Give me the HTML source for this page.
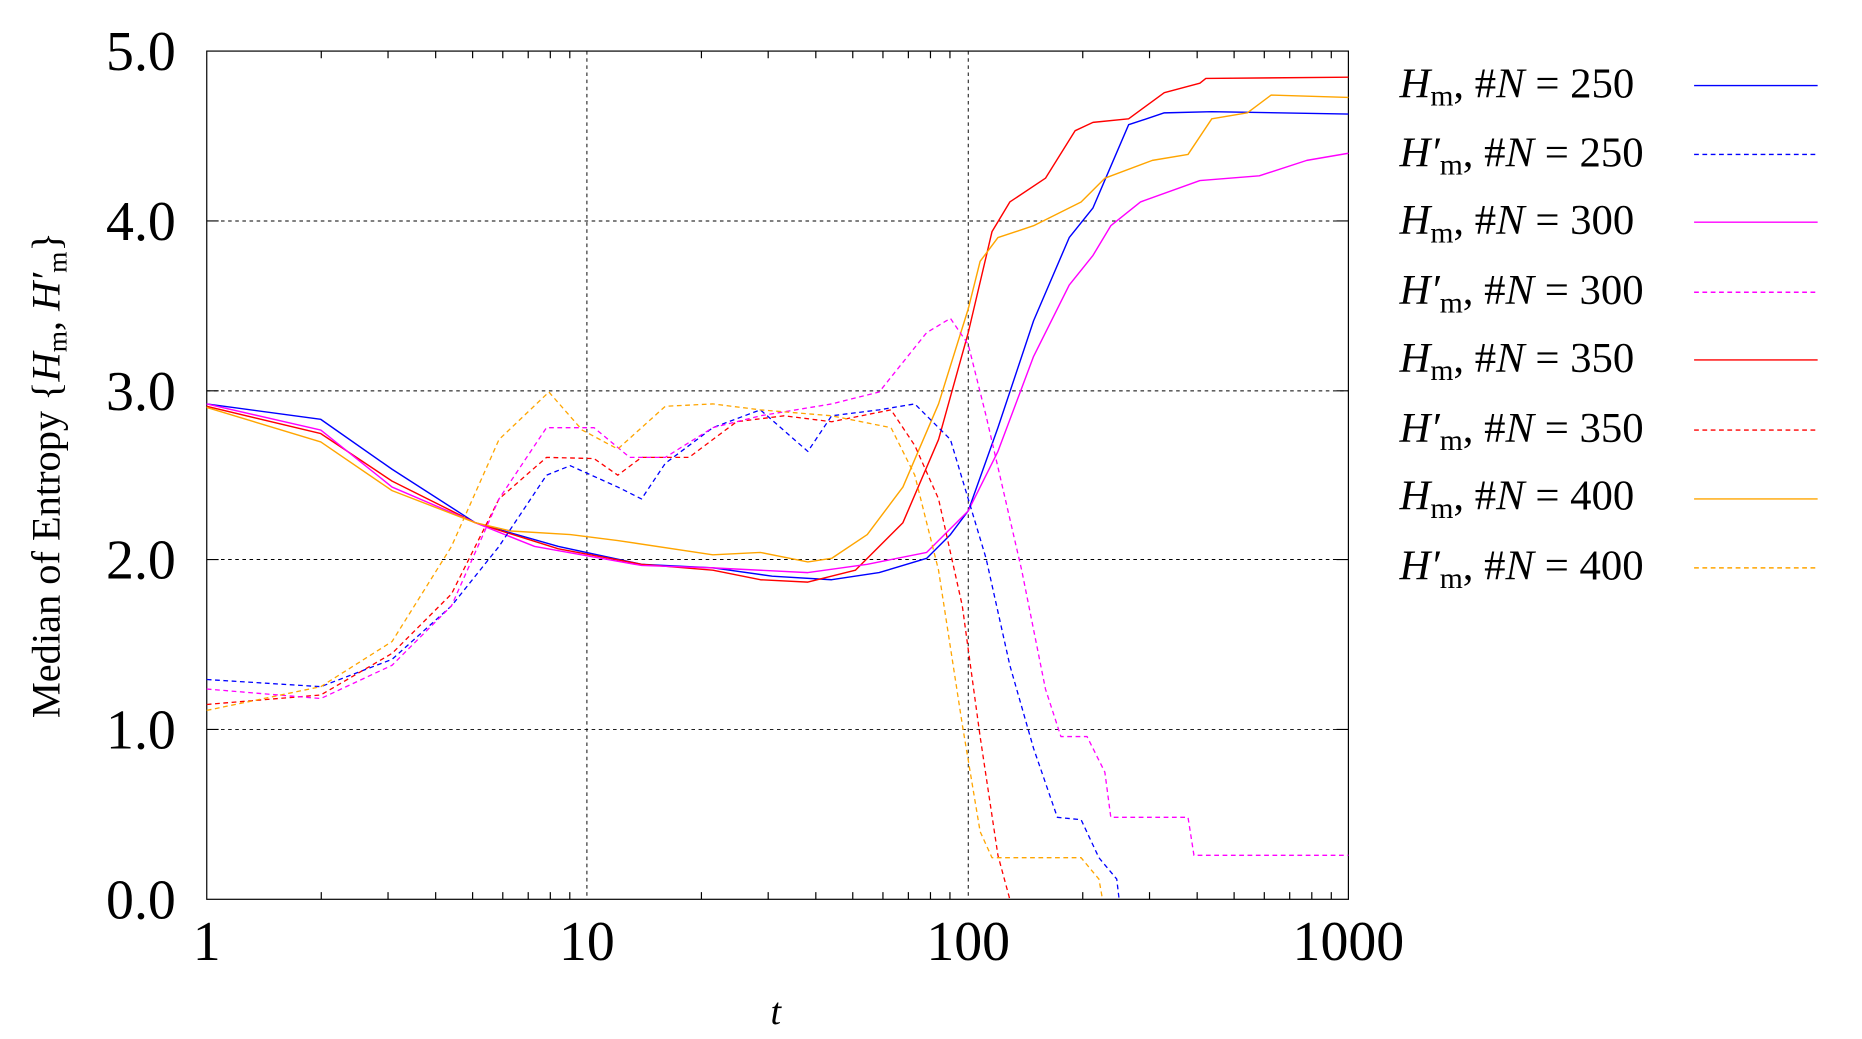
<!DOCTYPE html>
<html><head><meta charset="utf-8"><style>
html,body{margin:0;padding:0;background:#fff;}
svg{display:block;}
text{font-family:"Liberation Serif",serif;fill:#000;}
</style></head><body>
<svg width="1862" height="1039" viewBox="0 0 1567.3 874.6" xmlns="http://www.w3.org/2000/svg">
<g stroke="#000" stroke-width="0.8" stroke-dasharray="3,3" fill="none">
<line x1="494" y1="43" x2="494" y2="757"/>
<line x1="815" y1="43" x2="815" y2="757"/>
<line x1="174" y1="186" x2="1135" y2="186"/>
<line x1="174" y1="329" x2="1135" y2="329"/>
<line x1="174" y1="471" x2="1135" y2="471"/>
<line x1="174" y1="614" x2="1135" y2="614"/>
</g>
<g stroke="#000" stroke-width="1" fill="none">
<path d="M270.4,757v-6M326.6,757v-6M366.7,757v-6M397.8,757v-6M423.2,757v-6M444.6,757v-6M463.2,757v-6M479.6,757v-6M590.4,757v-6M646.6,757v-6M686.7,757v-6M717.8,757v-6M743.2,757v-6M764.6,757v-6M783.2,757v-6M799.6,757v-6M911.4,757v-6M967.6,757v-6M1007.7,757v-6M1038.8,757v-6M1064.2,757v-6M1085.6,757v-6M1104.2,757v-6M1120.6,757v-6
M270.4,43v6M326.6,43v6M366.7,43v6M397.8,43v6M423.2,43v6M444.6,43v6M463.2,43v6M479.6,43v6M590.4,43v6M646.6,43v6M686.7,43v6M717.8,43v6M743.2,43v6M764.6,43v6M783.2,43v6M799.6,43v6M911.4,43v6M967.6,43v6M1007.7,43v6M1038.8,43v6M1064.2,43v6M1085.6,43v6M1104.2,43v6M1120.6,43v6
M174,186h10M174,329h10M174,471h10M174,614h10M1135,186h-10M1135,329h-10M1135,471h-10M1135,614h-10"/>
<rect x="174" y="43" width="961" height="714"/>
</g>
<g font-size="47" text-anchor="end">
<text x="148" y="59">5.0</text><text x="148" y="202">4.0</text><text x="148" y="345">3.0</text><text x="148" y="487">2.0</text><text x="148" y="630">1.0</text><text x="148" y="773">0.0</text>
</g>
<g font-size="47" text-anchor="middle">
<text x="174" y="808">1</text><text x="494" y="808">10</text><text x="815" y="808">100</text><text x="1135" y="808">1000</text>
</g>
<text x="653" y="862" font-size="32" font-style="italic" text-anchor="middle">t</text>
<text transform="translate(50,400) rotate(-90)" font-size="34" text-anchor="middle">Median of Entropy {<tspan font-style="italic">H</tspan><tspan font-size="23" dy="6">m</tspan><tspan dy="-6">, </tspan><tspan font-style="italic">H′</tspan><tspan font-size="23" dy="6">m</tspan><tspan dy="-6">}</tspan></text>
<g fill="none" stroke-width="1.2" stroke-linejoin="round">
<polyline stroke="#0000ff" points="174,340 270,353 330,395 400,440 470,460 540,475 600,478 650,485 700,488 740,482 780,470 800,450 815,430 840,360 870,270 900,200 920,175 935,140 950,105 980,95 1020,94 1135,96"/>
<polyline stroke="#ff0000" points="174,342 270,365 330,405 400,440 470,462 540,475 600,480 640,488 680,490 720,480 760,440 790,370 815,280 835,195 850,170 880,150 905,110 920,103 950,100 980,78 1010,70 1015,66 1135,65"/>
<polyline stroke="#ff00ff" points="174,340 270,362 330,410 400,440 450,460 540,476 600,478 680,482 730,475 780,465 815,430 840,380 870,300 900,240 920,215 935,190 960,170 1010,152 1060,148 1100,135 1135,129"/>
<polyline stroke="#ffa500" points="174,343 270,372 330,413 400,440 430,447 480,450 520,455 600,467 640,465 680,473 700,470 730,450 760,410 790,340 815,260 825,220 840,200 870,190 910,170 930,150 970,135 1000,130 1020,100 1050,95 1070,80 1135,82"/>
</g>
<g fill="none" stroke-width="1.1" stroke-dasharray="4,3" stroke-linejoin="round">
<polyline stroke="#0000ff" points="174,572 270,578 330,555 380,510 420,460 460,400 480,392 520,410 540,420 560,390 600,360 640,345 680,380 700,350 740,345 770,340 800,370 815,420 830,470 850,560 870,630 890,688 910,690 925,722 940,740 942,757"/>
<polyline stroke="#ff0000" points="174,593 270,585 330,550 380,500 420,420 460,385 500,386 520,400 540,385 580,385 620,355 660,350 700,355 750,345 770,375 790,420 810,510 825,620 840,720 850,757"/>
<polyline stroke="#ff00ff" points="174,580 270,588 330,560 380,510 420,420 460,360 500,360 530,385 560,385 600,360 640,350 700,340 740,330 780,280 800,268 815,290 830,350 860,480 880,580 893,620 915,620 930,650 935,688 1000,688 1005,720 1135,720"/>
<polyline stroke="#ffa500" points="174,598 270,578 330,540 380,460 420,370 462,330 490,362 520,378 560,342 600,340 640,345 700,350 750,360 770,400 790,480 810,610 825,700 835,722 910,722 925,740 928,757"/>
</g>
<g font-size="36">
<text x="1178" y="82"><tspan font-style="italic">H</tspan><tspan font-size="25" dy="7">m</tspan><tspan dy="-7">, #</tspan><tspan font-style="italic">N</tspan> = 250</text>
<text x="1178" y="140"><tspan font-style="italic">H′</tspan><tspan font-size="25" dy="7">m</tspan><tspan dy="-7">, #</tspan><tspan font-style="italic">N</tspan> = 250</text>
<text x="1178" y="197"><tspan font-style="italic">H</tspan><tspan font-size="25" dy="7">m</tspan><tspan dy="-7">, #</tspan><tspan font-style="italic">N</tspan> = 300</text>
<text x="1178" y="256"><tspan font-style="italic">H′</tspan><tspan font-size="25" dy="7">m</tspan><tspan dy="-7">, #</tspan><tspan font-style="italic">N</tspan> = 300</text>
<text x="1178" y="313"><tspan font-style="italic">H</tspan><tspan font-size="25" dy="7">m</tspan><tspan dy="-7">, #</tspan><tspan font-style="italic">N</tspan> = 350</text>
<text x="1178" y="372"><tspan font-style="italic">H′</tspan><tspan font-size="25" dy="7">m</tspan><tspan dy="-7">, #</tspan><tspan font-style="italic">N</tspan> = 350</text>
<text x="1178" y="429"><tspan font-style="italic">H</tspan><tspan font-size="25" dy="7">m</tspan><tspan dy="-7">, #</tspan><tspan font-style="italic">N</tspan> = 400</text>
<text x="1178" y="488"><tspan font-style="italic">H′</tspan><tspan font-size="25" dy="7">m</tspan><tspan dy="-7">, #</tspan><tspan font-style="italic">N</tspan> = 400</text>
</g>
<g stroke-width="1.2">
<line x1="1426" y1="72" x2="1530" y2="72" stroke="#0000ff"/>
<line x1="1426" y1="130" x2="1530" y2="130" stroke="#0000ff" stroke-dasharray="4,3"/>
<line x1="1426" y1="187" x2="1530" y2="187" stroke="#ff00ff"/>
<line x1="1426" y1="246" x2="1530" y2="246" stroke="#ff00ff" stroke-dasharray="4,3"/>
<line x1="1426" y1="303" x2="1530" y2="303" stroke="#ff0000"/>
<line x1="1426" y1="362" x2="1530" y2="362" stroke="#ff0000" stroke-dasharray="4,3"/>
<line x1="1426" y1="420" x2="1530" y2="420" stroke="#ffa500"/>
<line x1="1426" y1="478" x2="1530" y2="478" stroke="#ffa500" stroke-dasharray="4,3"/>
</g>
</svg>
</body></html>
